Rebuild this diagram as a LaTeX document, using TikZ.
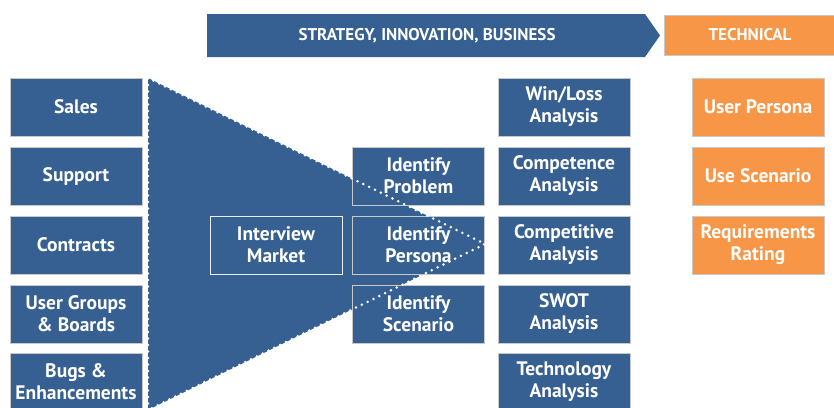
\documentclass[tikz,border=0pt]{standalone}
\usepackage{fontspec}
\setmainfont{PT Sans}
\usetikzlibrary{positioning,shapes,fit,arrows}
\definecolor{boxblue}{RGB}{55,96,146}
\definecolor{boxorange}{RGB}{247,150,70}
\definecolor{boxedge}{RGB}{200,200,200}

\begin{document}
\begin{tikzpicture}[x=1pt,y=-1pt,
        blk/.style={fill=boxblue, draw=boxedge, line width=0.8pt, text=white, align=center,
            font=\bfseries\fontsize{19.5}{22}\selectfont, minimum width=132pt, minimum height=58pt, inner sep=0pt},
        ora/.style={blk, fill=boxorange},
        hdr/.style={text=white, font=\bfseries\fontsize{17}{19}\selectfont},
        fdots/.style={white, line width=2.8pt, line cap=round, dash pattern=on 0pt off 6.5pt}]
    \useasboundingbox (0,0) rectangle (834,407);
    % header
    \fill[boxblue] (207,14) -- (645,14) -- (660,35.5) -- (645,57) -- (207,57) -- cycle;
    \node[hdr] (strat) at (427,35.5) {STRATEGY, INNOVATION, BUSINESS};
    \node[ora, minimum width=172pt, minimum height=40pt, hdr] (tech) at (750,35) {TECHNICAL};
    % funnel
    \coordinate (ftop) at (148,78);
    \coordinate (ftip) at (485,244);
    \coordinate (fbot) at (148,410);
    \fill[boxblue] (ftop) -- (ftip) -- (fbot) -- cycle;
    % sources
    \node[blk] (sales) at (76,107) {Sales};
    \node[blk] (support) at (76,176) {Support};
    \node[blk] (contracts) at (76,245) {Contracts};
    \node[blk] (groups) at (76,314) {User Groups\\\& Boards};
    \node[blk] (bugs) at (76,382) {Bugs \&\\Enhancements};
    % funnel contents
    \node[blk, draw=white!90!boxblue] (interview) at (276,245) {Interview\\Market};
    \node[blk] (problem) at (418.5,176) {Identify\\Problem};
    \node[blk] (persona) at (418.5,245) {Identify\\Persona};
    \node[blk] (scenario) at (418.5,314) {Identify\\Scenario};
    \draw[fdots] (fbot) -- (ftop) -- (ftip) -- (fbot);
    % analysis
    \node[blk] (winloss) at (564,107) {Win/Loss\\Analysis};
    \node[blk] (competence) at (564,176) {Competence\\Analysis};
    \node[blk] (competitive) at (564,245) {Competitive\\Analysis};
    \node[blk] (swot) at (564,314) {SWOT\\Analysis};
    \node[blk] (techan) at (564,382) {Technology\\Analysis};
    % technical
    \node[ora] (userpers) at (758,107) {User Persona};
    \node[ora] (usescen) at (758,176) {Use Scenario};
    \node[ora] (reqrate) at (758,245) {Requirements\\Rating};
\end{tikzpicture}
\end{document}
